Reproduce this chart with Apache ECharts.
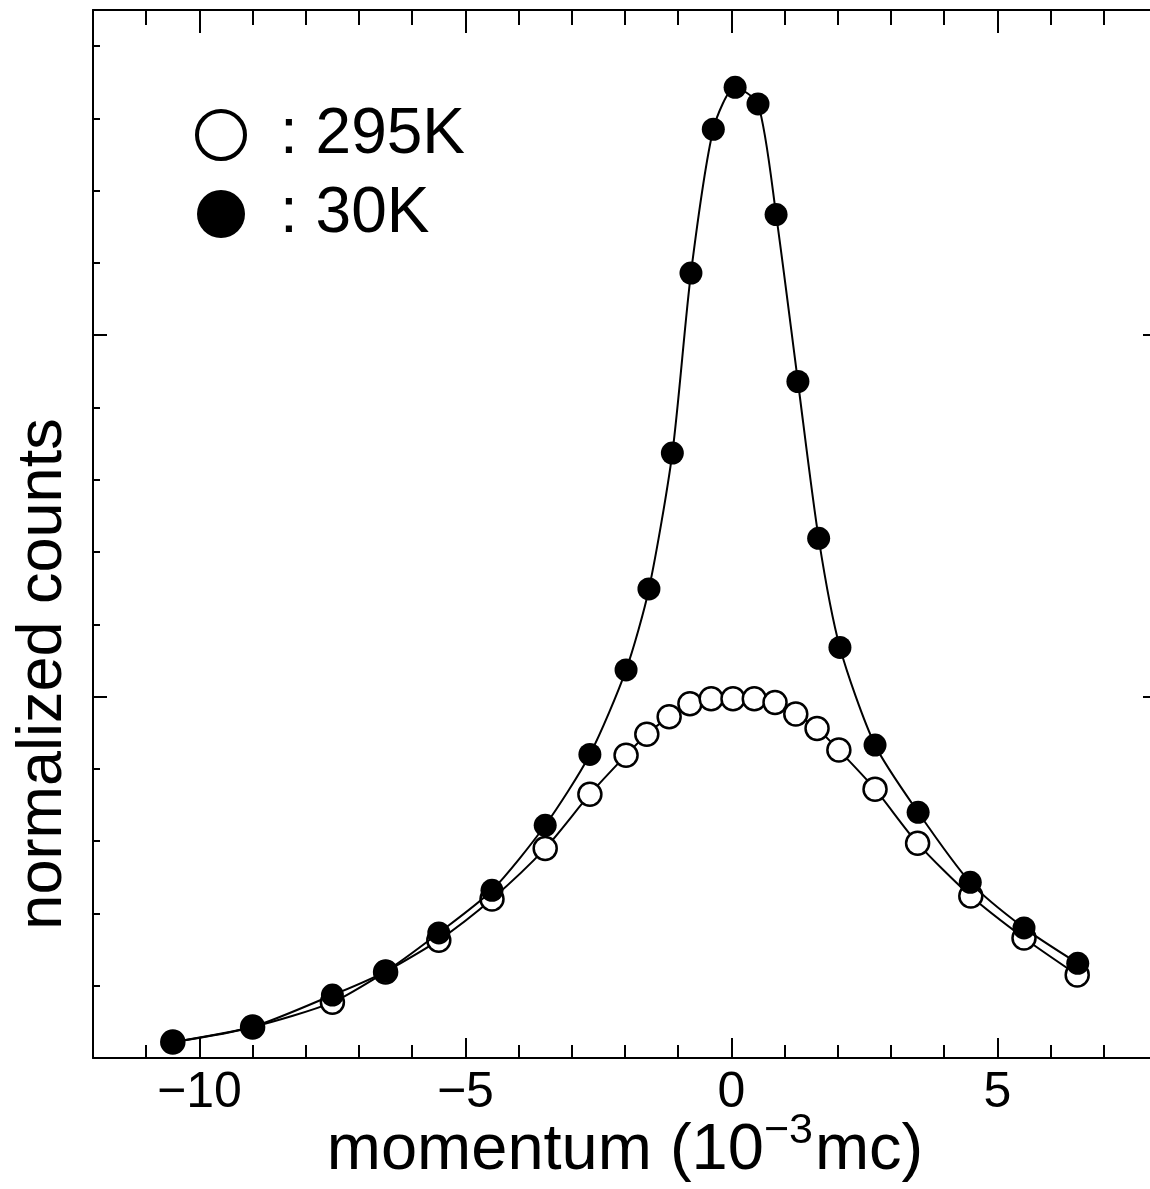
<!DOCTYPE html>
<html>
<head>
<meta charset="utf-8">
<script src="https://cdn.jsdelivr.net/npm/echarts@6/dist/echarts.min.js"></script>
<style>
html,body{margin:0;padding:0;background:#fff;overflow:hidden;}
#chart{width:1150px;height:1189px;}
</style>
</head>
<body>
<div id="chart"></div>
<script>
// ---- data (momentum in 10^-3 mc, normalized counts in arbitrary units) ----
const x30K = [-10.5, -9.0, -7.5, -6.5, -5.5, -4.5, -3.5, -2.66, -1.98, -1.55, -1.11, -0.76, -0.34, 0.07, 0.50, 0.84, 1.25, 1.64, 2.04, 2.70, 3.51, 4.49, 5.50, 6.51];
const y30K = [0.22, 0.43, 0.87, 1.20, 1.73, 2.32, 3.22, 4.20, 5.37, 6.49, 8.37, 10.86, 12.85, 13.43, 13.20, 11.67, 9.36, 7.19, 5.68, 4.33, 3.40, 2.43, 1.80, 1.31];

const x295K = [-10.5, -9.0, -7.5, -6.5, -5.5, -4.5, -3.5, -2.66, -1.98, -1.59, -1.17, -0.78, -0.38, 0.03, 0.43, 0.82, 1.21, 1.61, 2.02, 2.70, 3.50, 4.50, 5.50, 6.50];
const y295K = [0.22, 0.43, 0.77, 1.19, 1.63, 2.20, 2.90, 3.65, 4.19, 4.48, 4.72, 4.90, 4.97, 4.97, 4.97, 4.92, 4.76, 4.56, 4.26, 3.72, 2.97, 2.24, 1.66, 1.15];

const xMajorTicks = [-10, -5, 0, 5];
const xMinorTicks = [-11, -9, -8, -7, -6, -4, -3, -2, -1, 1, 2, 3, 4, 6, 7];
const yMajorTicks = [5, 10];
const yMinorTicks = [1, 2, 3, 4, 6, 7, 8, 9, 11, 12, 13, 14];
const seriesNames = ['295K', '30K'];

const X_MIN = -12, X_MAX = 8, Y_MIN = 0, Y_MAX = 14.5;

function zip(xs, ys) { return xs.map((v, i) => [v, ys[i]]); }
function fmtX(v) { return v < 0 ? '\u2212' + (-v) : String(v); }

const FONT = 'Liberation Sans, Arial, sans-serif';
const lineStyle = { color: '#000', width: 2 };

function xAxis(pos, ticks, len, labels, showLine) {
  return {
    type: 'value', position: pos, min: X_MIN, max: X_MAX,
    axisLine: { show: showLine, onZero: false, lineStyle: lineStyle },
    axisTick: { show: true, inside: true, length: len, customValues: ticks, lineStyle: { color: '#000', width: 2 } },
    axisLabel: labels ? {
      show: true, customValues: ticks, formatter: fmtX, color: '#000',
      fontSize: 50, fontFamily: FONT, margin: 10
    } : { show: false },
    splitLine: { show: false }
  };
}
function yAxis(pos, ticks, len, showLine) {
  return {
    type: 'value', position: pos, min: Y_MIN, max: Y_MAX,
    axisLine: { show: showLine, onZero: false, lineStyle: lineStyle },
    axisTick: { show: true, inside: true, length: len, customValues: ticks, lineStyle: { color: '#000', width: 2 } },
    axisLabel: { show: false },
    splitLine: { show: false }
  };
}

const xAxes = [
  xAxis('bottom', xMinorTicks, 13, false, true),
  xAxis('bottom', xMajorTicks, 20, true, false),
  xAxis('top', xMinorTicks, 15, false, true),
  xAxis('top', xMajorTicks, 23, false, false)
];
xAxes[0].name = '{t|momentum (10}{s|\u22123}{t|mc)}';
xAxes[0].nameLocation = 'middle';
xAxes[0].nameGap = 52;
xAxes[0].nameTextStyle = {
  color: '#000', fontFamily: FONT, fontSize: 65,
  rich: {
    t: { fontSize: 65, fontFamily: FONT, color: '#000', lineHeight: 74, verticalAlign: 'bottom' },
    s: { fontSize: 43, fontFamily: FONT, color: '#000', lineHeight: 40, verticalAlign: 'top', padding: [0, 2, 0, 0] }
  }
};

const yAxes = [
  yAxis('left', yMinorTicks, 7, true),
  yAxis('left', yMajorTicks, 14, false),
  yAxis('right', yMinorTicks, 7, true),
  yAxis('right', yMajorTicks, 14, false)
];
yAxes[0].name = 'normalized counts';
yAxes[0].nameLocation = 'middle';
yAxes[0].nameGap = 18;
yAxes[0].nameRotate = 90;
yAxes[0].nameTextStyle = { color: '#000', fontFamily: FONT, fontSize: 63, padding: [0, 280, 0, 0] };

const option = {
  animation: false,
  backgroundColor: '#fff',
  grid: { left: 93, top: 10, width: 1064, height: 1048, containLabel: false, outerBoundsMode: 'none' },
  xAxis: xAxes,
  yAxis: yAxes,
  legend: {
    left: 195, top: 103, orient: 'vertical', padding: 0,
    itemWidth: 48, itemHeight: 48, itemGap: 15,
    selectedMode: false,
    formatter: ': {name}',
    textStyle: { fontSize: 64, fontFamily: FONT, color: '#000', padding: [0, 0, 0, 30] },
    data: [
      { name: seriesNames[0], icon: 'circle', itemStyle: { color: '#fff', borderColor: '#000', borderWidth: 4 } },
      { name: seriesNames[1], icon: 'circle', itemStyle: { color: '#000', borderWidth: 0 } }
    ]
  },
  series: [
    {
      name: seriesNames[0], type: 'line', xAxisIndex: 0, yAxisIndex: 0,
      data: zip(x295K, y295K), smooth: 0.25,
      symbol: 'circle', symbolSize: 23,
      lineStyle: { color: '#000', width: 2 },
      itemStyle: { color: '#fff', borderColor: '#000', borderWidth: 2.5 },
      z: 2
    },
    {
      name: seriesNames[1], type: 'line', xAxisIndex: 0, yAxisIndex: 0,
      data: zip(x30K, y30K), smooth: 0.25,
      symbol: 'circle', symbolSize: 23,
      lineStyle: { color: '#000', width: 2 },
      itemStyle: { color: '#000', borderColor: '#000', borderWidth: 0 },
      z: 3
    }
  ]
};

const chart = echarts.init(document.getElementById('chart'), null, { renderer: 'canvas' });
chart.setOption(option);
</script>
</body>
</html>
